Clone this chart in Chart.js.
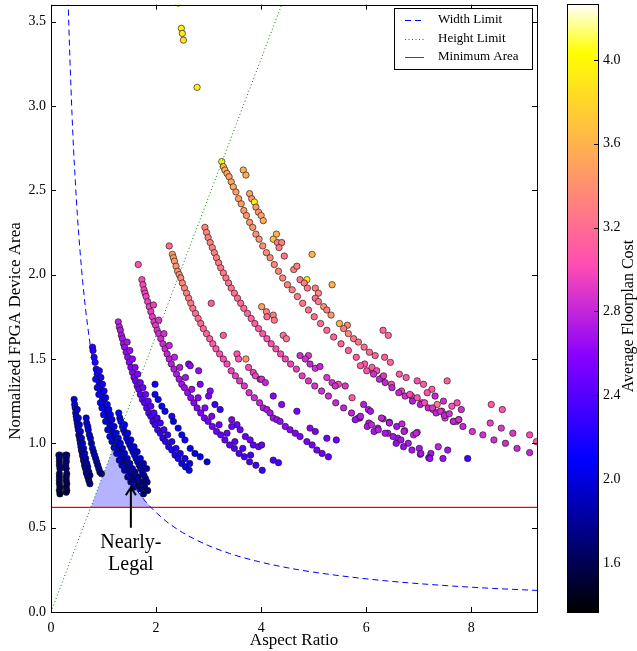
<!DOCTYPE html>
<html>
<head>
<meta charset="utf-8">
<script src="https://cdn.jsdelivr.net/npm/chart.js@4.4.0/dist/chart.umd.min.js"></script>
<style>
html, body { margin: 0; padding: 0; background: #fff; }
#wrap { position: relative; width: 637px; height: 651px; }
#main { position: absolute; left: 0; top: 0; }
#cbar { position: absolute; left: 540px; top: 0; }
</style>
</head>
<body>
<div id="wrap">
  <canvas id="main" width="560" height="651"></canvas>
  <canvas id="cbar" width="97" height="651"></canvas>
</div>
<script>
// tick labels
var xTicks = [0, 2, 4, 6, 8];
var yTicks = [0, 0.5, 1.0, 1.5, 2.0, 2.5, 3.0, 3.5];
var cbTicks = [1.6, 2.0, 2.4, 2.8, 3.2, 3.6, 4.0];
var costMin = 1.366, costMax = 4.267;

// limit curves
var widthX = [0.32, 0.34, 0.36, 0.38, 0.40, 0.43, 0.46, 0.50, 0.55, 0.60, 0.66, 0.73, 0.80, 0.90, 1.0, 1.1, 1.2, 1.35, 1.5, 1.7, 1.9, 2.2, 2.5, 2.9, 3.4, 4.0, 4.7, 5.5, 6.4, 7.4, 8.4, 9.25];
var widthY = [3.69, 3.47, 3.28, 3.11, 2.95, 2.74, 2.57, 2.36, 2.15, 1.97, 1.79, 1.62, 1.475, 1.31, 1.18, 1.07, 0.983, 0.874, 0.787, 0.694, 0.621, 0.536, 0.472, 0.407, 0.347, 0.295, 0.251, 0.215, 0.184, 0.159, 0.140, 0.128];
var heightX = [0, 4.5];
var heightY = [0, 3.69];
var minAreaX = [0, 9.25];
var minAreaY = [0.62, 0.62];
var nearX = [0.756, 1.2, 1.3, 1.4, 1.5, 1.6, 1.7, 1.8, 1.9];
var nearY = [0.62, 0.984, 0.908, 0.843, 0.787, 0.738, 0.694, 0.656, 0.621];

// floorplans: [aspect ratio, normalized area, average cost]
var groupA = [[0.15,0.93,1.7],[0.17,0.93,1.75],[0.16,0.91,1.7],[0.16,0.89,1.72],[0.16,0.87,1.68],[0.17,0.85,1.7],[0.16,0.82,1.65],[0.16,0.80,1.62],[0.16,0.78,1.65],[0.16,0.76,1.6],[0.17,0.74,1.58],[0.16,0.72,1.55],[0.17,0.70,1.52],
  [0.28,0.93,1.75],[0.30,0.93,1.72],[0.29,0.91,1.75],[0.29,0.89,1.7],[0.28,0.87,1.72],[0.29,0.85,1.68],[0.30,0.82,1.65],[0.29,0.80,1.66],[0.29,0.78,1.62],[0.30,0.76,1.6],[0.29,0.74,1.58],[0.30,0.72,1.55],[0.29,0.71,1.55]];
var groupB = [[0.44,1.26,2.02],[0.45,1.23,2.0],[0.46,1.21,1.98],[0.47,1.18,1.97],[0.48,1.16,1.96],[0.49,1.14,1.95],[0.50,1.12,1.95],[0.51,1.10,1.94],[0.52,1.08,1.93],[0.53,1.05,1.92],[0.54,1.04,1.92],[0.55,1.02,1.91],[0.56,1.00,1.9],[0.57,0.98,1.9],[0.58,0.96,1.88],[0.59,0.95,1.88],[0.60,0.93,1.87],[0.61,0.92,1.86],[0.62,0.90,1.85],[0.63,0.89,1.84],[0.64,0.87,1.84],[0.65,0.86,1.82],[0.66,0.85,1.8],[0.67,0.83,1.8],[0.68,0.82,1.78],[0.70,0.80,1.76],[0.72,0.78,1.74],[0.74,0.76,1.72],
  [0.50,1.20,1.98],[0.52,1.15,1.96],[0.54,1.11,1.95],[0.56,1.07,1.94],[0.58,1.03,1.92],[0.60,1.00,1.9],[0.62,0.97,1.89],[0.64,0.94,1.87],[0.66,0.91,1.85],[0.68,0.88,1.83],[0.70,0.86,1.8],[0.72,0.83,1.78],[0.74,0.81,1.75],
  [0.67,1.15,2.0],[0.68,1.12,1.98],[0.70,1.10,1.98],[0.71,1.08,1.97],[0.73,1.05,1.96],[0.75,1.03,1.95],[0.77,1.00,1.94],[0.79,0.97,1.92],[0.81,0.95,1.9],[0.83,0.93,1.88],[0.85,0.91,1.87],[0.87,0.89,1.85],[0.89,0.87,1.83],[0.91,0.85,1.8],[0.93,0.83,1.78],[0.96,0.82,1.75]];
var groupC = [[0.79,1.57,2.25],[0.80,1.55,2.24],[0.82,1.51,2.22],[0.84,1.48,2.2],[0.86,1.44,2.18],[0.88,1.41,2.17],[0.90,1.38,2.15],[0.92,1.35,2.14],[0.94,1.32,2.12],[0.96,1.29,2.1],[0.98,1.27,2.09],[1.00,1.24,2.08],[1.03,1.20,2.07],[1.06,1.17,2.06],[1.09,1.14,2.05],[1.12,1.11,2.04],[1.15,1.08,2.03],[1.18,1.05,2.02],[1.21,1.02,2.0],[1.24,1.00,1.98],[1.27,0.98,1.96],[1.30,0.95,1.94],[1.34,0.93,1.92],[1.38,0.90,1.9],[1.42,0.87,1.88],[1.46,0.85,1.86],[1.50,0.83,1.84],[1.55,0.80,1.8],[1.60,0.78,1.77],[1.65,0.75,1.74],[1.70,0.73,1.7],[1.76,0.70,1.66],
  [0.92,1.43,2.2],[0.95,1.39,2.18],[0.98,1.35,2.15],[1.01,1.31,2.13],[1.04,1.27,2.11],[1.07,1.23,2.1],[1.10,1.20,2.08],[1.13,1.17,2.07],[1.16,1.14,2.06],[1.20,1.10,2.05],[1.24,1.06,2.03],[1.28,1.03,2.01],[1.32,1.00,1.99],[1.36,0.97,1.97],[1.40,0.94,1.95],[1.45,0.91,1.92],[1.50,0.88,1.9],[1.55,0.85,1.87],[1.60,0.83,1.84],[1.66,0.80,1.8],[1.72,0.77,1.76],[1.78,0.74,1.72],[1.84,0.72,1.68],
  [0.85,1.38,2.18],[0.88,1.33,2.15],[0.91,1.29,2.12],[0.94,1.24,2.1],[0.97,1.21,2.08],[1.00,1.17,2.06],[1.04,1.13,2.05],[1.08,1.08,2.03],[1.12,1.04,2.01],[1.16,1.01,1.99],[1.20,0.975,1.97],[1.25,0.94,1.94],[1.30,0.90,1.91],[1.35,0.87,1.88],[1.40,0.84,1.85],[1.46,0.80,1.8],[1.52,0.77,1.76],[1.58,0.74,1.72],
  [1.29,1.18,2.12],[1.31,1.15,2.1],[1.33,1.13,2.1],[1.36,1.10,2.08],[1.38,1.08,2.07],[1.41,1.06,2.06],[1.44,1.03,2.05],[1.47,1.01,2.04],[1.50,0.99,2.03],[1.53,0.97,2.02],[1.56,0.95,2.0],[1.59,0.93,1.98],[1.62,0.91,1.96],[1.65,0.89,1.94],[1.68,0.87,1.92],[1.71,0.85,1.9],[1.74,0.83,1.87],[1.77,0.81,1.84],[1.80,0.79,1.8],[1.83,0.77,1.76],[1.40,1.11,2.08],[1.46,1.06,2.06],[1.52,1.02,2.04],[1.58,0.98,2.02],[1.64,0.95,2.0],[1.70,0.91,1.97],[1.76,0.88,1.93],[1.82,0.85,1.88]];
var groupD = [[1.28,1.72,2.78],[1.30,1.69,2.76],[1.32,1.67,2.74],[1.34,1.64,2.72],[1.36,1.62,2.7],[1.38,1.59,2.68],[1.40,1.57,2.66],[1.43,1.54,2.64],[1.46,1.51,2.62],[1.49,1.48,2.6],[1.52,1.45,2.58],[1.55,1.42,2.56],[1.58,1.39,2.54],[1.61,1.37,2.52],[1.64,1.34,2.5],[1.67,1.32,2.48],[1.70,1.29,2.46],[1.74,1.26,2.44],[1.78,1.24,2.42],[1.82,1.21,2.4],[1.86,1.18,2.38],[1.90,1.16,2.36],[1.94,1.13,2.34],[1.98,1.11,2.32],[2.03,1.08,2.3],[2.08,1.06,2.28],[2.13,1.03,2.26],[2.18,1.01,2.24],[2.24,0.98,2.22],[2.30,0.96,2.2],[2.36,0.93,2.18],[2.42,0.91,2.16],[2.49,0.88,2.14],[2.56,0.86,2.12],[2.63,0.84,2.1],
  [1.45,1.60,2.7],[1.50,1.55,2.66],[1.55,1.50,2.62],[1.60,1.45,2.58],[1.65,1.41,2.55],[1.70,1.36,2.52],[1.75,1.33,2.5],[1.80,1.29,2.47],[1.85,1.25,2.44],[1.90,1.22,2.42],[1.96,1.18,2.39],[2.02,1.15,2.36],[2.08,1.12,2.33],[2.15,1.08,2.3],[2.22,1.05,2.27],[2.30,1.01,2.24],[2.38,0.97,2.21],[2.46,0.94,2.18],[2.55,0.91,2.15],[2.64,0.88,2.12],
  [1.98,1.35,2.15],[1.98,1.29,2.12],[2.04,1.26,2.1],[2.11,1.22,2.12],[2.17,1.19,2.1],[2.30,1.16,2.2],[2.33,1.13,2.1],[2.42,1.09,2.12],[2.49,1.05,2.1],[2.55,1.02,2.15],[2.65,0.97,2.1],[2.74,0.94,2.08],[2.84,0.92,2.1],[2.97,0.89,2.05]];
var groupE = [[1.66,2.06,3.05],[1.73,1.97,3.0],[1.75,1.94,3.0],[1.77,1.91,2.98],[1.79,1.89,2.97],[1.81,1.87,2.96],[1.84,1.84,2.95],[1.87,1.81,2.94],[1.90,1.78,2.93],[1.93,1.75,2.92],[1.96,1.72,2.91],[1.99,1.70,2.9],[2.02,1.67,2.88],[2.05,1.65,2.86],[2.09,1.62,2.85],[2.13,1.59,2.84],[2.17,1.56,2.82],[2.21,1.53,2.8],[2.25,1.50,2.78],[2.29,1.47,2.76],[2.34,1.44,2.74],[2.39,1.41,2.72],[2.44,1.38,2.7],[2.49,1.35,2.68],[2.54,1.33,2.66],[2.60,1.30,2.64],[2.66,1.27,2.62],[2.72,1.24,2.6],[2.78,1.21,2.58],[2.85,1.18,2.56],[2.92,1.15,2.54],[2.99,1.13,2.52],[3.07,1.10,2.5],[3.15,1.07,2.48],[3.23,1.05,2.46],[3.31,1.02,2.44],[3.40,0.99,2.42],[3.49,0.97,2.4],[3.58,0.94,2.38],[3.68,0.92,2.36],[3.78,0.89,2.34],[3.90,0.87,2.32],[4.02,0.84,2.3],
  [1.95,1.82,2.95],[2.05,1.73,2.9],[2.15,1.65,2.86],[2.25,1.58,2.82],[2.35,1.51,2.78],[2.45,1.45,2.74],[2.56,1.39,2.7],[2.68,1.32,2.66],[2.80,1.27,2.62],[2.93,1.21,2.58],[3.06,1.16,2.54],[3.20,1.11,2.5],[3.35,1.06,2.46],[3.50,1.01,2.42],[3.65,0.97,2.38],[3.80,0.93,2.35],
  [2.62,1.47,2.6],[2.65,1.46,2.62],[2.81,1.43,2.65],[2.84,1.35,2.55],[3.03,1.31,2.6],[3.00,1.28,2.55],[3.12,1.23,2.3],[3.22,1.20,2.3],[3.44,1.14,2.55],[3.54,1.11,2.5],[3.44,1.10,2.45],[3.60,1.08,2.5],[3.70,1.04,2.45],[3.79,1.02,2.5],[3.85,0.99,2.45],[3.95,0.98,2.5],[4.01,0.99,2.45],[4.23,0.90,2.35],[4.33,0.885,2.35]];
var groupE2 = [[2.25,2.17,3.2],[2.31,2.12,3.5],[2.33,2.10,3.48],[2.35,2.08,3.45],[2.38,2.05,3.42],[2.41,2.02,3.4],[2.44,2.00,3.38],[2.47,1.98,3.36],[2.50,1.95,3.34],[2.54,1.92,3.32],[2.58,1.89,3.3],[2.62,1.86,3.28],[2.66,1.83,3.26],[2.70,1.80,3.24],[2.75,1.77,3.22],[2.80,1.74,3.2],[2.85,1.71,3.18],[2.90,1.68,3.16],[2.96,1.65,3.14],[3.02,1.62,3.12],[3.08,1.59,3.1],[3.14,1.56,3.08],[3.21,1.53,3.05],[3.28,1.50,3.02],[3.35,1.47,3.0],[3.43,1.43,2.97],[3.51,1.40,2.94],[3.59,1.37,2.92],[3.68,1.34,2.9],[3.77,1.30,2.87],[3.87,1.27,2.84],[3.97,1.24,2.8],[4.04,1.21,2.75],[4.11,1.20,2.72],[4.17,1.18,2.7],[4.23,1.15,2.68],[4.30,1.14,2.66],[4.36,1.13,2.64],[4.46,1.10,2.62],[4.55,1.08,2.6],[4.65,1.06,2.58],[4.74,1.04,2.56],[4.87,1.01,2.54],[4.97,0.99,2.52],[5.06,0.96,2.5],[5.16,0.94,2.48],[5.28,0.92,2.46],
  [3.05,1.83,3.1],[3.28,1.64,3.1],[3.54,1.53,3.05],[3.57,1.50,3.05],[3.71,1.50,3.45],[3.76,1.45,3.0],[3.85,1.42,2.95],[3.89,1.40,2.95],[3.98,1.38,2.8],[4.01,1.38,2.85],[4.08,1.36,2.8],[4.23,1.28,2.6],[4.39,1.23,2.6],[4.68,1.19,2.55],[4.93,1.09,2.6],[5.03,1.07,2.55],[5.25,1.03,2.5],[5.43,1.02,2.5]];
var groupF = [[2.93,2.28,3.35],[2.96,2.25,3.34],[2.99,2.22,3.33],[3.03,2.19,3.32],[3.07,2.16,3.31],[3.11,2.13,3.3],[3.15,2.10,3.29],[3.19,2.07,3.28],[3.23,2.04,3.27],[3.28,2.01,3.26],[3.33,1.98,3.25],[3.38,1.95,3.24],[3.43,1.92,3.23],[3.49,1.89,3.22],[3.55,1.86,3.21],[3.61,1.83,3.2],[3.67,1.80,3.18],[3.74,1.77,3.16],[3.81,1.74,3.14],[3.88,1.71,3.12],[3.95,1.68,3.1],[4.03,1.65,3.08],[4.11,1.62,3.06],[4.19,1.59,3.04],[4.28,1.56,3.02],[4.37,1.53,3.0],[4.46,1.50,2.98],[4.56,1.47,2.96],[4.67,1.44,2.94],[4.78,1.40,2.92],[4.90,1.37,2.9],[5.02,1.34,2.88],[5.15,1.31,2.86],[5.28,1.28,2.84],[5.42,1.24,2.82],[5.57,1.21,2.8],[5.72,1.18,2.78],[5.88,1.15,2.76],[6.05,1.12,2.75],[6.22,1.09,2.74],[6.41,1.06,2.73],[6.60,1.03,2.72],[6.80,1.00,2.72],[7.01,0.97,2.7],[7.23,0.94,2.7],[7.46,0.91,2.68],
  [4.74,1.52,2.85],[4.90,1.52,2.9],[4.84,1.50,2.85],[4.93,1.47,2.8],[5.03,1.445,2.85],[5.12,1.455,2.8],[5.25,1.39,2.9],[5.35,1.36,2.85],[5.47,1.35,3.0],[5.60,1.34,2.9],[5.41,1.34,2.85],[5.73,1.27,3.1],[5.95,1.23,2.75],[6.04,1.20,2.75],[5.85,1.15,2.7],[5.79,1.14,2.65],[6.08,1.19,2.7],[6.32,1.145,2.75],[6.44,1.125,2.7],[6.58,1.10,2.7],[6.68,1.115,2.8],[6.73,1.075,2.75],[6.90,1.05,2.8],[6.97,1.065,2.85],[7.03,0.935,2.6],[6.87,0.96,2.7],[7.19,0.915,2.6],[7.37,0.98,2.8],[7.55,0.96,2.7],[7.93,0.91,2.35],[5.89,1.16,2.75],[6.02,1.10,2.7],[6.10,1.11,2.8],[6.15,1.07,2.7],[6.23,1.08,2.75],[6.29,1.15,2.8],[6.36,1.06,2.7],[6.44,1.12,2.75],[6.51,1.04,2.7],[6.57,1.00,2.65],[6.66,1.02,2.7],[6.72,1.07,2.75],[6.71,0.98,2.65],[6.95,1.06,2.8],[7.04,0.94,2.7],[7.21,0.91,2.65]];
var groupG = [[3.25,2.67,3.95],[3.28,2.64,3.6],[3.31,2.62,3.55],[3.35,2.60,3.52],[3.39,2.58,3.5],[3.43,2.55,3.5],[3.47,2.52,3.55],[3.52,2.49,3.48],[3.57,2.45,3.47],[3.62,2.42,3.46],[3.67,2.38,3.45],[3.72,2.35,3.44],[3.78,2.31,3.43],[3.84,2.28,3.42],[3.90,2.24,3.41],[3.96,2.21,3.4],[4.03,2.17,3.38],[4.10,2.13,3.37],[4.17,2.10,3.36],[4.25,2.06,3.35],[4.33,2.02,3.34],[4.41,1.98,3.33],[4.50,1.94,3.32],[4.59,1.91,3.3],[4.69,1.87,3.28],[4.79,1.83,3.26],[4.90,1.79,3.24],[5.01,1.75,3.22],[5.13,1.71,3.2],[5.25,1.67,3.18],[5.38,1.63,3.16],[5.52,1.59,3.14],[5.66,1.55,3.12],[5.81,1.51,3.1],[5.97,1.47,3.08],[6.13,1.43,3.06],[6.30,1.39,3.04],[6.48,1.35,3.02],[6.67,1.31,3.0],[6.86,1.28,2.98],[7.06,1.24,2.96],[7.27,1.20,2.94],[7.49,1.17,2.92],[7.72,1.13,2.9],[8.02,1.07,2.88],[8.22,1.05,2.86],[8.43,1.02,2.85],[8.65,1.00,2.84],[8.87,0.97,2.82],[9.11,0.945,2.8],
  [3.66,2.62,3.6],[3.71,2.59,3.55],[3.78,2.48,3.5],[3.82,2.45,3.45],[3.87,2.43,3.95],[3.90,2.40,3.45],[3.95,2.37,3.45],[4.00,2.35,3.5],[4.04,2.32,3.55],[4.29,2.24,3.6],[4.23,2.21,3.7],[4.31,2.19,3.3],[4.39,2.19,3.3],[4.34,2.16,3.3],[4.44,2.11,3.25],[4.97,2.12,3.6],[5.35,1.94,3.6],[4.87,1.97,3.95],[4.62,2.03,3.3],[4.68,2.05,3.3],[4.74,1.97,3.25],[4.82,1.95,3.3],[4.88,1.92,3.25],[5.03,1.92,3.3],[5.09,1.89,3.35],[5.03,1.86,3.2],[5.09,1.84,3.25],[5.19,1.81,3.4],[5.25,1.79,3.3],[5.33,1.76,3.45],[5.49,1.71,3.6],[5.64,1.70,3.35],[5.57,1.68,3.3],[5.66,1.65,3.35],[5.76,1.62,3.25],[5.85,1.60,3.25],[5.96,1.57,3.2],[6.06,1.54,3.2],[6.17,1.52,3.15],[6.32,1.67,3.15],[6.42,1.64,3.15],[6.35,1.51,3.1],[6.46,1.48,3.15],[6.63,1.41,3.1],[6.76,1.39,3.1],[6.97,1.37,3.05],[7.09,1.35,3.1],[7.25,1.32,3.1],[7.16,1.30,3.05],[7.54,1.37,3.15],[7.35,1.23,3.3],[7.44,1.19,3.0],[7.50,1.15,2.95],[7.66,1.13,2.95],[7.76,1.14,3.0],[8.38,1.23,3.1],[8.59,1.20,3.05],[8.36,1.12,2.95],[8.57,1.09,2.9],[8.79,1.06,2.9],[9.11,1.05,3.0],[9.24,1.01,3.1],
  [4.01,1.81,3.5],[4.10,1.78,3.3],[4.23,1.76,3.3],[4.25,1.73,3.25],[4.11,1.75,3.2],[4.42,1.64,3.2],[4.48,1.62,3.25],
  [5.89,1.46,3.1],[6.01,1.43,3.05],[6.11,1.45,3.1],[6.20,1.43,3.0],[6.14,1.41,2.85],[6.25,1.38,2.8],[6.33,1.40,2.9],[6.36,1.36,2.8],[6.49,1.33,2.8],[6.62,1.30,2.8],[6.74,1.28,2.85],[6.83,1.29,3.0],[6.88,1.25,2.75],[6.97,1.27,3.05],[7.03,1.23,2.75],[7.11,1.24,3.0],[7.18,1.21,2.8],[7.26,1.21,2.9],[7.33,1.18,2.8],[7.41,1.19,2.85],[7.31,1.28,2.8],[7.47,1.25,2.85],[7.49,1.165,2.8],[7.58,1.175,2.85],[7.66,1.13,2.8],[7.63,1.22,3.05],[7.73,1.24,3.0],[7.81,1.20,2.85],[7.76,1.14,2.85],[7.84,1.10,2.8]];
var groupTop = [[2.42,3.61,4.0],[2.48,3.46,3.95],[2.50,3.43,3.9],[2.52,3.39,3.85],[2.78,3.11,3.95]];

var groups = [groupA, groupB, groupC, groupD, groupE, groupE2, groupF, groupG, groupTop];

// matplotlib gnuplot2 colormap
function clamp(v) { return Math.max(0, Math.min(1, v)); }
function costColor(c) {
    var t = clamp((c - costMin) / (costMax - costMin));
    var r = clamp(t / 0.32 - 0.78125);
    var g = clamp(2 * t - 0.84);
    var b = t < 0.25 ? 4 * t : (t < 0.92 ? -2 * t + 1.84 : t / 0.08 - 11.5);
    b = clamp(b);
    return 'rgb(' + Math.round(r * 255) + ',' + Math.round(g * 255) + ',' + Math.round(b * 255) + ')';
}
function pairs(xs, ys) { return xs.map(function (x, i) { return {x: x, y: ys[i]}; }); }

var serif = "'Liberation Serif', 'DejaVu Serif', serif";
Chart.defaults.font.family = serif;
Chart.defaults.color = '#000';

var datasets = [
    {label: 'Width Limit', data: pairs(widthX, widthY), showLine: true, borderColor: '#0000ff', borderWidth: 1,
     borderDash: [6, 4], pointRadius: 0, cubicInterpolationMode: 'monotone', fill: false, order: 0},
    {label: 'Height Limit', data: pairs(heightX, heightY), showLine: true, borderColor: '#008000', borderWidth: 1,
     borderDash: [1, 2.5], pointRadius: 0, fill: false, order: 0},
    {label: 'Minimum Area', data: pairs(minAreaX, minAreaY), showLine: true, borderColor: '#ff0000', borderWidth: 1.2,
     pointRadius: 0, fill: false, order: 0},
    {label: 'Nearly-Legal', data: pairs(nearX, nearY), showLine: true, borderWidth: 0, borderColor: 'rgba(0,0,0,0)',
     backgroundColor: 'rgb(179,179,255)', fill: {value: 0.62}, pointRadius: 0, order: 5}
];
groups.forEach(function (g) {
    datasets.push({
        data: g.map(function (p) { return {x: p[0], y: p[1]}; }),
        pointBackgroundColor: g.map(function (p) { return costColor(p[2]); }),
        pointBorderColor: 'rgba(20,20,20,0.9)',
        pointBorderWidth: 0.7,
        pointRadius: 3.2,
        order: 1
    });
});

var tickLabelFont = {family: serif, size: 14};

var framePlugin = {
    id: 'frame',
    afterDraw: function (chart) {
        var ctx = chart.ctx, a = chart.chartArea;
        var xs = chart.scales.x, ys = chart.scales.y;
        ctx.save();
        ctx.strokeStyle = '#000';
        ctx.lineWidth = 1;
        ctx.strokeRect(Math.round(a.left) + 0.5, Math.round(a.top) + 0.5, Math.round(a.right - a.left), Math.round(a.bottom - a.top));
        ctx.beginPath();
        xTicks.forEach(function (v) {
            var px = Math.round(xs.getPixelForValue(v)) + 0.5;
            ctx.moveTo(px, a.bottom); ctx.lineTo(px, a.bottom - 5);
            ctx.moveTo(px, a.top); ctx.lineTo(px, a.top + 5);
        });
        yTicks.forEach(function (v) {
            var py = Math.round(ys.getPixelForValue(v)) + 0.5;
            ctx.moveTo(a.left, py); ctx.lineTo(a.left + 5, py);
            ctx.moveTo(a.right, py); ctx.lineTo(a.right - 5, py);
        });
        ctx.stroke();

        // y axis title
        ctx.save();
        ctx.translate(16, 331);
        ctx.rotate(-Math.PI / 2);
        ctx.fillStyle = '#000';
        ctx.font = '17px ' + serif;
        ctx.textAlign = 'center';
        ctx.textBaseline = 'middle';
        ctx.fillText('Normalized FPGA Device Area', 0, 0);
        ctx.restore();

        // legend box
        var lx = 394, ly = 8, lw = 138, lh = 61;
        ctx.fillStyle = '#fff';
        ctx.fillRect(lx, ly, lw, lh);
        ctx.strokeRect(lx + 0.5, ly + 0.5, lw, lh);
        var rows = [chart.data.datasets[0], chart.data.datasets[1], chart.data.datasets[2]];
        ctx.font = '13px ' + serif;
        ctx.textBaseline = 'middle';
        ctx.textAlign = 'left';
        rows.forEach(function (ds, i) {
            var cy = Math.round(ly + 12 + i * 18.5);
            ctx.beginPath();
            ctx.strokeStyle = ds.borderColor;
            ctx.lineWidth = 1;
            ctx.setLineDash(ds.borderDash || []);
            ctx.moveTo(405, cy + 0.5); ctx.lineTo(424, cy + 0.5);
            ctx.stroke();
            ctx.setLineDash([]);
            ctx.fillStyle = '#000';
            ctx.fillText(ds.label, 438, cy);
        });

        // annotation
        var ax = xs.getPixelForValue(1.52);
        var tip = ys.getPixelForValue(0.745), tail = ys.getPixelForValue(0.50);
        ctx.strokeStyle = '#000';
        ctx.lineWidth = 2;
        ctx.beginPath();
        ctx.moveTo(ax, tail); ctx.lineTo(ax, tip + 1);
        ctx.moveTo(ax - 5, tip + 9); ctx.lineTo(ax, tip + 1); ctx.lineTo(ax + 5, tip + 9);
        ctx.stroke();
        ctx.fillStyle = '#000';
        ctx.textAlign = 'center';
        ctx.font = '20px ' + serif;
        ctx.fillText('Nearly-', ax, ys.getPixelForValue(0.41));
        ctx.fillText('Legal', ax, ys.getPixelForValue(0.28));
        ctx.restore();
    }
};

new Chart(document.getElementById('main'), {
    type: 'scatter',
    data: {datasets: datasets},
    options: {
        responsive: false,
        animation: false,
        layout: {padding: {top: 4, right: 23, left: 0, bottom: 0}},
        plugins: {legend: {display: false}, tooltip: {enabled: false}},
        scales: {
            x: {
                type: 'linear', min: 0, max: 9.25,
                grid: {display: false, drawTicks: false},
                border: {display: false},
                ticks: {font: tickLabelFont, padding: 8, callback: function (v) { return String(v); }},
                afterBuildTicks: function (s) { s.ticks = xTicks.map(function (v) { return {value: v}; }); },
                afterFit: function (s) { s.height = 39; s.paddingLeft = 0; s.paddingRight = 0; },
                title: {display: true, text: 'Aspect Ratio', font: {family: serif, size: 17}, padding: {top: 0, bottom: 0}}
            },
            y: {
                type: 'linear', min: 0, max: 3.6,
                grid: {display: false, drawTicks: false},
                border: {display: false},
                ticks: {font: tickLabelFont, padding: 5, callback: function (v) { return v.toFixed(1); }},
                afterBuildTicks: function (s) { s.ticks = yTicks.map(function (v) { return {value: v}; }); },
                afterFit: function (s) { s.width = 51; s.paddingTop = 0; s.paddingBottom = 0; },
                title: {display: false}
            }
        }
    },
    plugins: [framePlugin]
});

// colorbar
var cbarPlugin = {
    id: 'cbarFill',
    beforeDatasetsDraw: function (chart) {
        var ctx = chart.ctx, a = chart.chartArea, s = chart.scales.y;
        ctx.save();
        for (var py = Math.floor(a.top); py < a.bottom; py++) {
            ctx.fillStyle = costColor(s.getValueForPixel(py + 0.5));
            ctx.fillRect(a.left, py, a.right - a.left, 1);
        }
        ctx.strokeStyle = '#000';
        ctx.lineWidth = 1;
        ctx.strokeRect(Math.round(a.left) + 0.5, Math.round(a.top) + 0.5, Math.round(a.right - a.left), Math.round(a.bottom - a.top));
        ctx.beginPath();
        cbTicks.forEach(function (v) {
            var py = Math.round(s.getPixelForValue(v)) + 0.5;
            ctx.moveTo(a.right, py); ctx.lineTo(a.right - 4, py);
        });
        ctx.stroke();
        ctx.translate(89, 316);
        ctx.rotate(-Math.PI / 2);
        ctx.fillStyle = '#000';
        ctx.font = '16px ' + serif;
        ctx.textAlign = 'center';
        ctx.textBaseline = 'middle';
        ctx.fillText('Average Floorplan Cost', 0, 0);
        ctx.restore();
    }
};

new Chart(document.getElementById('cbar'), {
    type: 'scatter',
    data: {datasets: [{data: []}]},
    options: {
        responsive: false,
        animation: false,
        layout: {padding: {top: 4, left: 27, bottom: 39, right: 0}},
        plugins: {legend: {display: false}, tooltip: {enabled: false}},
        scales: {
            x: {display: false, min: 0, max: 1},
            y: {
                type: 'linear', position: 'right', min: costMin, max: costMax,
                grid: {display: false, drawTicks: false},
                border: {display: false},
                ticks: {font: tickLabelFont, padding: 5, callback: function (v) { return v.toFixed(1); }},
                afterBuildTicks: function (s) { s.ticks = cbTicks.map(function (v) { return {value: v}; }); },
                afterFit: function (s) { s.width = 39; s.paddingTop = 0; s.paddingBottom = 0; }
            }
        }
    },
    plugins: [cbarPlugin]
});
</script>
</body>
</html>
